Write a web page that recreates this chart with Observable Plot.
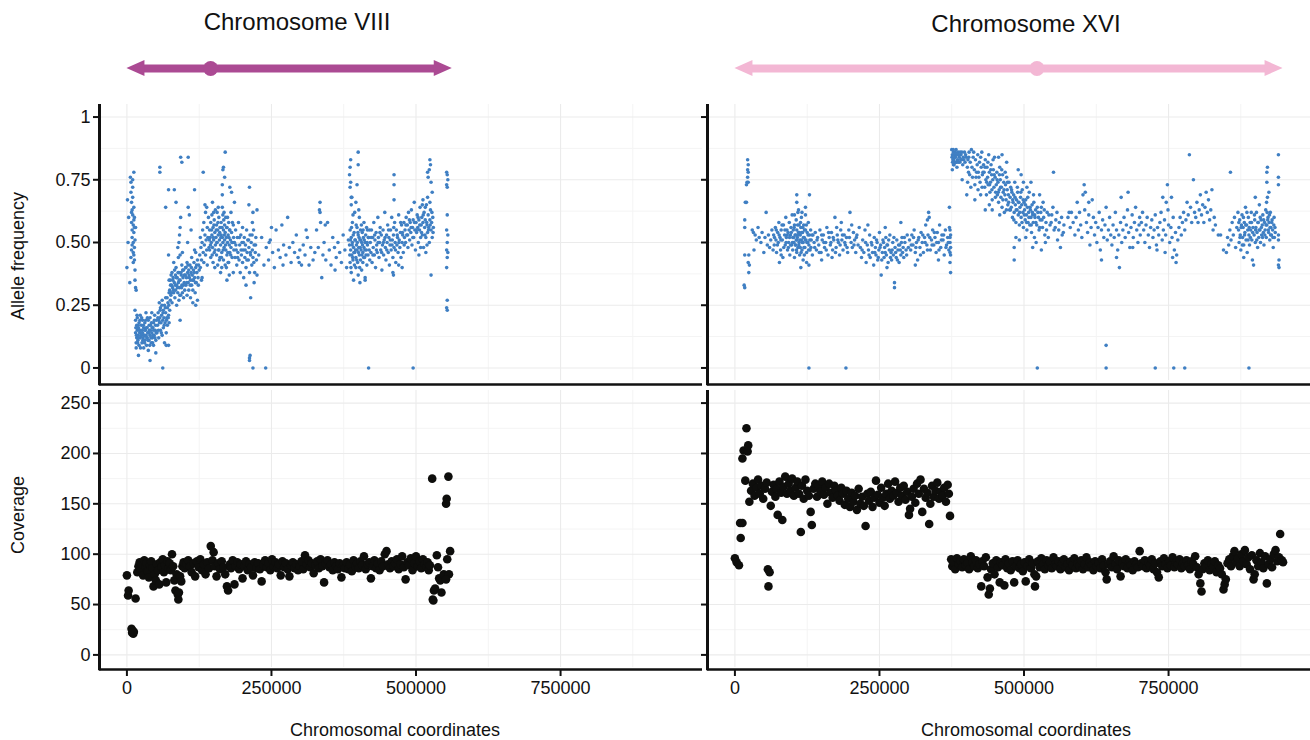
<!DOCTYPE html>
<html><head><meta charset="utf-8">
<script src="https://cdn.jsdelivr.net/npm/d3@7"></script>
<script src="https://cdn.jsdelivr.net/npm/@observablehq/plot@0.6"></script>
<style>
body{margin:0;background:#fff;}
#chart{position:relative;width:1310px;height:740px;overflow:hidden;font-family:"Liberation Sans",Arial,Helvetica,sans-serif;color:#111;}
#chart > svg{position:absolute;}
.lbl{position:absolute;white-space:nowrap;text-align:center;color:#111;}
</style></head><body><div id="chart"></div>
<script>
// ---------- data ----------
const chromNames = ["Chromosome VIII", "Chromosome XVI"];
const chromLengths = [562643, 948066];
const centromeres = [144800, 522400];
const arrowColors = ["#ab4a93", "#f3b7d4"];
const xTitle = "Chromosomal coordinates";
const yTitles = ["Allele frequency", "Coverage"];
const xTicks = [0, 250000, 500000, 750000];
const xTickLabels = ["0", "250000", "500000", "750000"];
const xMinor = [125000, 375000, 625000, 875000];
const afTicks = [0, 0.25, 0.5, 0.75, 1];
const afTickLabels = ["0", "0.25", "0.50", "0.75", "1"];
const afMinor = [0.125, 0.375, 0.625, 0.875];
const covTicks = [0, 50, 100, 150, 200, 250];
const covTickLabels = ["0", "50", "100", "150", "200", "250"];
const covMinor = [25, 75, 125, 175, 225];

// allele frequency, chromosome VIII: [position kb, frequency]
const af8 = [
[0,0.40],[1,0.67],[2,0.50],[3,0.60],
[6,0.76],[7,0.74],[7,0.70],[8,0.66],[8,0.62],[8,0.58],[9,0.55],[9,0.52],[9,0.49],[10,0.75],[10,0.72],[10,0.68],[10,0.61],[11,0.57],[11,0.50],[11,0.46],[11,0.42],[12,0.78],[12,0.64],[12,0.59],[12,0.54],[12,0.45],[13,0.60],[13,0.56],[13,0.48],[13,0.43],[14,0.39],[14,0.35],[5,0.34],[15,0.32],[16,0.31],[7,0.44],[8,0.47],[9,0.63],[14,0.51],[15,0.56],
[14,0.23],[15,0.19],[15,0.14],[16,0.10],[16,0.08],[17,0.17],[17,0.12],[18,0.15],[18,0.20],[19,0.13],[19,0.11],[20,0.16],[21,0.18],[21,0.09],[22,0.14],[23,0.12],[23,0.21],[24,0.15],[25,0.13],[25,0.17],[26,0.10],[27,0.14],[27,0.19],[28,0.12],[29,0.16],[29,0.08],[30,0.13],[31,0.18],[31,0.11],[32,0.15],[33,0.13],[33,0.22],[34,0.09],[35,0.16],[35,0.12],[36,0.14],[37,0.19],[37,0.07],[38,0.11],[39,0.15],[40,0.13],[40,0.20],[41,0.17],[42,0.10],[43,0.14],[43,0.22],[44,0.12],[45,0.16],[46,0.18],[46,0.09],[47,0.13],[48,0.21],[49,0.15],[50,0.11],[51,0.19],[52,0.14],
[15.5,0.16],[16.5,0.13],[17.5,0.21],[18.5,0.10],[19.5,0.17],[20.5,0.12],[21.5,0.15],[22.5,0.19],[23.5,0.08],[24.5,0.13],[25.5,0.20],[26.5,0.15],[27.5,0.11],[28.5,0.17],[29.5,0.13],[30.5,0.10],[31.5,0.15],[32.5,0.19],[33.5,0.16],[34.5,0.12],[35.5,0.20],[36.5,0.11],[37.5,0.14],[38.5,0.17],[39.5,0.09],[40.5,0.15],[41.5,0.12],[42.5,0.18],[43.5,0.16],[44.5,0.10],[45.5,0.13],[46.5,0.15],[47.5,0.19],[48.5,0.12],[49.5,0.17],[50.5,0.14],
[20,0.05],[40,0.03],[50,0.06],[62,0],
[53,0.17],[54,0.22],[55,0.19],[55,0.12],[56,0.26],[57,0.20],[58,0.15],[58,0.24],[59,0.18],[60,0.21],[61,0.27],[61,0.13],[62,0.19],[63,0.23],[63,0.16],[64,0.20],[65,0.25],[65,0.10],[66,0.18],[67,0.22],[67,0.28],[68,0.14],[69,0.20],[70,0.24],[70,0.17],[71,0.26],[72,0.21],[73,0.30],[73,0.18],[74,0.23],[75,0.27],[68,0.09],[72,0.09],
[53.5,0.20],[54.5,0.15],[56.5,0.18],[57.5,0.23],[59.5,0.14],[60.5,0.25],[62.5,0.22],[64.5,0.17],[66.5,0.24],[68.5,0.19],[69.5,0.28],[71.5,0.20],[72.5,0.25],[74.5,0.30],
[57,0.80],[57,0.78],[67,0.64],[72,0.45],[73,0.35],
[74,0.31],[75,0.35],[76,0.29],[77,0.33],[78,0.38],[78,0.26],[79,0.32],[80,0.36],[81,0.30],[81,0.42],[82,0.34],[83,0.28],[84,0.37],[84,0.31],[85,0.40],[86,0.33],[86,0.25],[87,0.36],[88,0.30],[89,0.44],[89,0.34],[90,0.27],[90,0.38],[91,0.32],[92,0.35],[92,0.45],[93,0.29],[94,0.37],[95,0.33],[95,0.41],[96,0.30],[97,0.36],[98,0.28],[98,0.39],[99,0.34],[100,0.31],[88,0.48],[91,0.53],[92,0.56],[93,0.60],[90,0.50],[96,0.46],
[75.5,0.33],[76.5,0.37],[77.5,0.30],[79.5,0.35],[80.5,0.31],[82.5,0.39],[83.5,0.33],[85.5,0.36],[87.5,0.32],[88.5,0.38],[90.5,0.35],[91.5,0.29],[93.5,0.38],[94.5,0.32],[96.5,0.39],[97.5,0.33],[99.5,0.37],
[72,0.71],[82,0.71],[85,0.66],[93,0.84],[95,0.82],[106,0.84],[92,0.19],
[101,0.37],[102,0.33],[102,0.40],[103,0.36],[104,0.29],[104,0.42],[105,0.38],[106,0.34],[107,0.39],[107,0.31],[108,0.36],[109,0.41],[110,0.35],[110,0.28],[111,0.38],[112,0.33],[112,0.44],[113,0.37],[114,0.31],[115,0.39],[115,0.35],[116,0.42],[117,0.36],[118,0.30],[119,0.40],[119,0.46],[120,0.34],[121,0.38],[122,0.43],[122,0.27],[123,0.36],[124,0.41],[125,0.39],[105,0.50],[108,0.61],[106,0.64],[117,0.47],[119,0.25],[114,0.26],[117,0.71],[111,0.55],
[101.5,0.40],[103.5,0.34],[105.5,0.41],[107.5,0.37],[109.5,0.33],[111.5,0.40],[113.5,0.35],[116.5,0.38],[118.5,0.34],[120.5,0.41],[123.5,0.33],
[126,0.45],[127,0.40],[127,0.52],[128,0.48],[129,0.43],[130,0.50],[130,0.36],[131,0.55],[132,0.46],[133,0.42],[133,0.58],[134,0.49],[135,0.53],[136,0.45],[136,0.62],[137,0.51],[138,0.47],[139,0.56],[139,0.41],[140,0.52],[141,0.60],[142,0.48],[132,0.78],[129,0.35],[135,0.65],[138,0.64],
[143,0.55],[143,0.47],[144,0.52],[145,0.58],[145,0.44],[146,0.50],[147,0.61],[147,0.53],[148,0.48],[149,0.56],[149,0.42],[150,0.51],[151,0.59],[151,0.46],[152,0.54],[153,0.49],[153,0.63],[154,0.52],[155,0.45],[155,0.57],[156,0.50],[157,0.55],[157,0.41],[158,0.53],[159,0.60],[159,0.47],[160,0.51],[161,0.56],[161,0.44],[162,0.49],[163,0.58],[163,0.53],[164,0.46],[165,0.52],[165,0.64],[166,0.50],[167,0.55],[167,0.43],[168,0.48],[169,0.57],[169,0.51],[170,0.54],[171,0.47],[171,0.60],[172,0.52],[173,0.45],[173,0.56],[174,0.50],[175,0.53],[175,0.42],[176,0.58],[177,0.49],[178,0.55],[178,0.46],[179,0.51],[180,0.62],[180,0.48],[181,0.54],[182,0.44],[183,0.50],[184,0.57],[185,0.47],[148,0.66],[152,0.40],[156,0.62],[160,0.43],[164,0.40],[168,0.62],[172,0.40],[176,0.42],
[142.5,0.51],[144.5,0.49],[146.5,0.55],[147.5,0.45],[149.5,0.52],[150.5,0.57],[152.5,0.47],[154.5,0.55],[155.5,0.50],[157.5,0.58],[158.5,0.47],[160.5,0.54],[162.5,0.52],[163.5,0.44],[164.5,0.56],[166.5,0.47],[167.5,0.59],[168.5,0.53],[170.5,0.49],[172.5,0.56],[174.5,0.46],[176.5,0.52],[177.5,0.55],[179.5,0.45],[181.5,0.50],[182.5,0.58],[184.5,0.52],[150,0.62],[158,0.64],[166,0.61],[174,0.60],[162,0.38],[170,0.41],
[165,0.73],[166,0.79],[167,0.80],[170,0.86],[169,0.76],[178,0.72],[165,0.69],[181,0.70],[173,0.35],[186,0.66],[184,0.38],[177,0.37],
[186,0.50],[187,0.44],[188,0.55],[189,0.47],[190,0.41],[191,0.52],[192,0.46],[193,0.58],[194,0.43],[195,0.49],[196,0.38],[197,0.53],[198,0.45],[199,0.50],[200,0.42],[200,0.56],[201,0.47],[202,0.36],[203,0.52],[204,0.44],[205,0.49],[206,0.40],[207,0.55],[208,0.46],[209,0.51],[210,0.43],[211,0.48],[212,0.38],[213,0.53],[214,0.45],[215,0.50],[216,0.41],[217,0.47],[218,0.44],[219,0.55],[220,0.49],[221,0.38],[222,0.46],[223,0.52],[224,0.43],
[188.5,0.49],[191.5,0.44],[194.5,0.52],[197.5,0.47],[201.5,0.50],[204.5,0.47],[207.5,0.43],[210.5,0.51],[213.5,0.46],[216.5,0.53],[219.5,0.42],[222.5,0.49],
[212,0.72],[211,0.65],[214,0.28],[206,0.33],[218,0.62],[217,0.58],[220,0.34],[225,0.63],[225,0.37],
[212,0.04],[212,0.03],[213,0.05],[218,0],[240,0],
[228,0.45],[233,0.52],[237,0.41],[241,0.48],[245,0.43],[248,0.51],[252,0.46],[255,0.40],[258,0.55],[262,0.47],[265,0.44],[268,0.57],[271,0.49],[275,0.45],[278,0.60],[281,0.48],[284,0.42],[287,0.50],[290,0.46],[293,0.53],[296,0.44],[299,0.47],[302,0.41],[305,0.49],[308,0.45],[312,0.52],[315,0.41],[318,0.48],[322,0.43],[325,0.46],[328,0.55],[331,0.48],[334,0.62],[335,0.58],[337,0.36],[339,0.45],[341,0.50],[344,0.43],[347,0.58],[350,0.47],[353,0.41],[356,0.52],[359,0.48],[362,0.44],[365,0.50],[368,0.46],[371,0.42],[374,0.53],[377,0.47],[380,0.40],[383,0.51],[250,0.56],[270,0.41],[310,0.55],[334,0.66],[333,0.63],[343,0.57],[360,0.39],[246,0.50],[298,0.42],
[385,0.49],[386,0.42],[386,0.55],[387,0.47],[388,0.38],[388,0.52],[389,0.45],[390,0.58],[390,0.50],[391,0.43],[392,0.48],[392,0.35],[393,0.54],[394,0.46],[394,0.62],[395,0.51],[396,0.44],[396,0.40],[397,0.49],[398,0.56],[398,0.47],[399,0.42],[400,0.53],[400,0.37],[401,0.48],[402,0.45],[402,0.60],[403,0.51],[404,0.43],[404,0.55],[405,0.47],[406,0.50],[406,0.39],[407,0.54],[408,0.46],[408,0.42],[409,0.52],[410,0.48],[410,0.58],[411,0.44],[412,0.50],[412,0.36],[413,0.53],[414,0.47],[415,0.41],[416,0.55],[416,0.49],[417,0.45],[418,0.52],[419,0.47],[420,0.43],[388,0.65],[391,0.61],[401,0.63],
[385.5,0.45],[386.5,0.51],[387.5,0.40],[388.5,0.56],[389.5,0.49],[390.5,0.44],[391.5,0.53],[392.5,0.46],[393.5,0.41],[394.5,0.51],[395.5,0.47],[396.5,0.57],[397.5,0.43],[398.5,0.50],[399.5,0.54],[400.5,0.46],[401.5,0.52],[402.5,0.40],[403.5,0.48],[404.5,0.51],[405.5,0.57],[406.5,0.45],[407.5,0.49],[408.5,0.55],[409.5,0.44],[410.5,0.51],[411.5,0.47],[413.5,0.45],[414.5,0.56],[415.5,0.50],[417.5,0.52],[419.5,0.55],
[385,0.77],[386,0.80],[387,0.83],[386,0.72],[387,0.74],[400,0.86],[400,0.81],[398,0.73],[388,0.68],[389,0.68],[396,0.66],[403,0.34],[412,0.35],[418,0],
[421,0.50],[422,0.46],[423,0.55],[424,0.42],[425,0.52],[426,0.48],[427,0.58],[428,0.45],[429,0.51],[430,0.40],[431,0.54],[432,0.49],[433,0.46],[434,0.60],[435,0.52],[436,0.44],[437,0.50],[438,0.56],[439,0.47],[440,0.53],[441,0.39],[442,0.49],[443,0.55],[444,0.45],[445,0.51],[446,0.62],[447,0.48],[448,0.43],[449,0.53],[450,0.50],[451,0.57],[452,0.46],[453,0.52],[454,0.41],[455,0.49],[456,0.55],[457,0.47],[458,0.60],[459,0.51],[460,0.44],[461,0.53],[462,0.48],[463,0.58],[464,0.50],[465,0.42],[466,0.55],[467,0.49],[468,0.52],[469,0.46],[470,0.61],[471,0.51],[472,0.48],[473,0.54],[474,0.44],[475,0.57],[476,0.50],[477,0.53],[478,0.46],[479,0.58],[480,0.52],
[422.5,0.52],[425.5,0.45],[428.5,0.53],[431.5,0.47],[434.5,0.50],[437.5,0.54],[440.5,0.46],[443.5,0.50],[446.5,0.52],[449.5,0.47],[452.5,0.55],[455.5,0.51],[458.5,0.49],[461.5,0.56],[464.5,0.47],[467.5,0.53],[470.5,0.50],[473.5,0.58],[476.5,0.54],[479.5,0.49],
[462,0.77],[462,0.73],[462,0.67],[461,0.37],[460,0.38],[470,0.41],[476,0.40],
[481,0.55],[482,0.50],[483,0.60],[484,0.53],[485,0.57],[486,0.48],[487,0.62],[488,0.55],[489,0.51],[490,0.58],[491,0.54],[492,0.63],[493,0.49],[494,0.56],[495,0.59],[496,0.52],[497,0.66],[498,0.55],[499,0.47],[500,0.58],[501,0.54],[502,0.61],[503,0.56],[504,0.50],[505,0.59],[506,0.55],[507,0.64],[508,0.52],[509,0.57],[510,0.60],[511,0.53],[512,0.58],[513,0.48],[514,0.62],[515,0.56],[516,0.59],[517,0.52],[518,0.65],[519,0.57],[520,0.54],[521,0.61],[522,0.56],[523,0.50],[524,0.59],[525,0.63],[526,0.55],[527,0.58],[528,0.52],[529,0.60],[530,0.56],[512,0.67],[520,0.68],[505,0.45],[517,0.46],
[482.5,0.57],[485.5,0.53],[488.5,0.59],[491.5,0.56],[494.5,0.52],[497.5,0.58],[500.5,0.55],[503.5,0.60],[506.5,0.57],[509.5,0.54],[512.5,0.61],[515.5,0.53],[518.5,0.58],[521.5,0.55],[524.5,0.57],[527.5,0.62],[529.5,0.54],[511,0.65],[516,0.64],[524,0.66],[519,0.49],[508,0.48],
[520,0.78],[521,0.76],[523,0.79],[524,0.83],[525,0.81],[526,0.74],[526,0.37],[495,0],[528,0.70],
[553,0.78],[554,0.77],[555,0.75],[553,0.73],[554,0.72],[554,0.61],[553,0.55],[555,0.53],[554,0.50],[553,0.47],[555,0.46],[554,0.44],[553,0.40],[554,0.27],[553,0.24],[554,0.23]
];

// allele frequency, chromosome XVI: [position kb, frequency]
const af16 = [
[22,0.83],[23,0.81],[22,0.79],[23,0.78],[22,0.76],[23,0.74],[21,0.74],[20,0.73],[18,0.66],[20,0.66],[17,0.59],[17,0.56],[17,0.45],[24,0.45],[25,0.41],[23,0.42],[24,0.38],[16,0.33],[17,0.32],
[30,0.55],[32,0.54],[33,0.47],[35,0.53],[37,0.51],[40,0.56],[42,0.52],[45,0.50],[47,0.54],[50,0.46],[52,0.52],[54,0.62],[56,0.49],[58,0.53],[60,0.48],[62,0.51],[64,0.55],[66,0.47],
[67,0.53],[68,0.49],[70,0.56],[71,0.51],[72,0.46],[74,0.54],[75,0.50],[76,0.58],[78,0.52],[79,0.47],[80,0.55],[82,0.51],[83,0.44],[84,0.57],[86,0.53],[87,0.49],[88,0.60],[89,0.52],[90,0.55],[91,0.47],[92,0.54],[93,0.50],[94,0.58],[95,0.45],[96,0.53],[97,0.56],[98,0.49],[99,0.61],[100,0.52],[100,0.47],[101,0.55],[102,0.50],[103,0.57],[103,0.44],[104,0.53],[105,0.49],[106,0.59],[106,0.51],[107,0.55],[107,0.46],[108,0.52],[109,0.62],[109,0.48],[110,0.54],[111,0.50],[111,0.57],[112,0.45],[113,0.53],[113,0.48],[114,0.56],[115,0.51],[115,0.60],[116,0.47],[117,0.54],[118,0.50],[118,0.43],[119,0.57],[120,0.52],[121,0.48],[122,0.55],[122,0.61],[123,0.51],[124,0.46],[125,0.54],[126,0.50],[127,0.58],[128,0.49],[129,0.53],[130,0.47],[131,0.55],[132,0.51],[134,0.45],[135,0.53],
[68.5,0.52],[71.5,0.55],[73.5,0.49],[76.5,0.53],[79.5,0.51],[81.5,0.57],[84.5,0.48],[86.5,0.55],[88.5,0.50],[90.5,0.53],[92.5,0.48],[94.5,0.52],[96.5,0.49],[97.5,0.54],[99.5,0.50],[101.5,0.52],[102.5,0.56],[104.5,0.49],[105.5,0.53],[106.5,0.47],[107.5,0.51],[108.5,0.57],[109.5,0.53],[110.5,0.49],[111.5,0.54],[112.5,0.51],[113.5,0.58],[114.5,0.46],[115.5,0.54],[116.5,0.50],[117.5,0.56],[118.5,0.52],[119.5,0.48],[120.5,0.55],[121.5,0.51],[123.5,0.57],[124.5,0.50],[126.5,0.53],[127.5,0.47],[129.5,0.51],[131.5,0.48],[133.5,0.53],[110,0.63],[116,0.62],[103,0.61],[120,0.45],
[107,0.69],[107,0.66],[122,0.64],[129,0.69],[114,0.40],[128,0.41],[124,0.42],[128,0],[80,0.45],[77,0.42],
[137,0.50],[139,0.54],[141,0.47],[143,0.52],[145,0.49],[147,0.55],[149,0.46],[151,0.51],[153,0.53],[155,0.48],[157,0.50],[159,0.56],[161,0.45],[163,0.52],[165,0.49],[167,0.54],[169,0.47],[171,0.51],[173,0.60],[175,0.48],[177,0.53],[179,0.50],[181,0.45],[183,0.55],[185,0.51],[187,0.47],[189,0.53],[191,0.49],[193,0.52],[195,0.46],[197,0.55],[199,0.62],[201,0.50],[203,0.48],[205,0.54],[207,0.51],[209,0.46],[211,0.53],[213,0.49],[215,0.56],[192,0],[150,0.43],[168,0.44],[184,0.58],[202,0.57],[176,0.56],
[138,0.48],[142,0.51],[146,0.46],[150,0.53],[154,0.50],[158,0.47],[162,0.54],[166,0.50],[170,0.52],[174,0.46],[178,0.51],[182,0.49],[186,0.53],[190,0.50],[194,0.48],[198,0.52],[206,0.49],[210,0.52],
[217,0.48],[219,0.44],[221,0.51],[223,0.46],[225,0.55],[227,0.42],[229,0.49],[231,0.47],[233,0.53],[234,0.44],[236,0.50],[238,0.46],[240,0.41],[241,0.52],[243,0.48],[244,0.45],[246,0.50],[247,0.43],[249,0.47],[250,0.54],[252,0.49],[253,0.37],[255,0.46],[256,0.51],[258,0.44],[259,0.48],[261,0.52],[262,0.45],[264,0.49],[265,0.42],[267,0.47],[268,0.53],[270,0.46],[271,0.43],[273,0.50],[274,0.45],[276,0.32],[277,0.48],[279,0.44],[280,0.51],[282,0.47],[284,0.42],[285,0.49],[287,0.45],[289,0.52],[290,0.46],[292,0.44],[294,0.50],[296,0.47],[298,0.53],[300,0.48],[230,0.57],[260,0.56],[276,0.34],[287,0.58],[263,0.40],
[220,0.47],[226,0.50],[232,0.45],[237,0.49],[242,0.46],[245,0.51],[248,0.44],[251,0.48],[254,0.43],[257,0.50],[260,0.46],[263,0.49],[266,0.51],[269,0.44],[272,0.47],[275,0.52],[278,0.46],[281,0.43],[283,0.49],[286,0.47],[288,0.50],[291,0.48],[293,0.52],[297,0.45],
[302,0.51],[304,0.47],[306,0.53],[308,0.49],[310,0.55],[312,0.46],[314,0.50],[316,0.43],[318,0.52],[320,0.48],[322,0.54],[324,0.50],[326,0.46],[328,0.52],[330,0.57],[332,0.49],[334,0.53],[336,0.60],[338,0.47],[340,0.51],[342,0.55],[344,0.49],[346,0.52],[348,0.46],[350,0.54],[352,0.50],[354,0.57],[356,0.48],[358,0.53],[360,0.51],[362,0.45],[364,0.55],[366,0.49],[368,0.52],[370,0.47],[372,0.55],[372,0.50],[373,0.45],[372,0.42],[373,0.38],[372,0.52],[373,0.48],[371,0.64],[335,0.62],[333,0.59],[312,0.41],[352,0.43],
[305,0.49],[309,0.52],[313,0.48],[317,0.51],[321,0.45],[325,0.53],[329,0.50],[333,0.47],[337,0.52],[341,0.49],[345,0.54],[349,0.50],[353,0.47],[357,0.51],[361,0.53],[365,0.48],[369,0.50],[371,0.56],[373,0.53],[372,0.46],
[375,0.87],[376,0.85],[377,0.83],[378,0.86],[379,0.81],[380,0.84],[381,0.86],[382,0.82],[383,0.85],[384,0.80],[385,0.83],[386,0.86],[388,0.84],[389,0.82],[391,0.85],[392,0.83],[394,0.81],[395,0.84],[393,0.75],[401,0.69],[398,0.82],[400,0.84],[403,0.83],[405,0.86],[407,0.82],[409,0.87],[410,0.80],[412,0.84],[414,0.79],[416,0.83],[417,0.76],[419,0.81],[420,0.85],[421,0.78],[423,0.82],[424,0.74],[426,0.80],[427,0.86],[428,0.77],[430,0.81],[376,0.79],[378,0.81],
[375.5,0.84],[376.5,0.82],[377.5,0.87],[378.5,0.83],[379.5,0.85],[380.5,0.82],[381.5,0.84],[382.5,0.87],[383.5,0.82],[384.5,0.85],[386.5,0.82],[387.5,0.85],[389.5,0.86],[390.5,0.83],[392.5,0.86],[396,0.83],[397,0.86],[399,0.85],[402,0.80],[404,0.78],
[402.5,0.74],[404.5,0.84],[406,0.77],[408,0.72],[411,0.76],[413,0.86],[415,0.73],[418,0.78],[420.5,0.71],[422,0.76],[425,0.84],[427.5,0.72],[429,0.78],[432.5,0.80],[435.5,0.74],[437.5,0.82],[440.5,0.73],[442.5,0.79],[444.5,0.71],[446.5,0.83],[448.5,0.77],[450.5,0.68],[453.5,0.75],[455.5,0.70],[457.5,0.77],[459.5,0.72],[461.5,0.79],[463.5,0.67],[465.5,0.71],[467.5,0.78],[469.5,0.63],[471.5,0.74],[473.5,0.66],[415,0.67],[425,0.69],[445,0.63],[458,0.61],
[431,0.78],[432,0.72],[433,0.83],[434,0.75],[435,0.69],[436,0.80],[437,0.76],[438,0.73],[439,0.85],[440,0.78],[441,0.70],[442,0.74],[443,0.81],[444,0.77],[445,0.67],[446,0.75],[447,0.79],[448,0.72],[449,0.84],[450,0.76],[451,0.70],[433,0.63],[440,0.65],
[452,0.73],[453,0.78],[454,0.69],[455,0.74],[456,0.66],[457,0.71],[458,0.80],[459,0.75],[460,0.68],[461,0.72],[462,0.64],[463,0.77],[464,0.70],[465,0.74],[466,0.62],[467,0.69],[468,0.73],[469,0.67],[470,0.76],[471,0.71],[472,0.65],[473,0.69],[474,0.74],[475,0.63],[456,0.84],[462,0.85],[470,0.82],
[476,0.68],[477,0.72],[478,0.64],[479,0.70],[480,0.60],[481,0.66],[482,0.69],[483,0.62],[484,0.74],[485,0.65],[486,0.58],[487,0.67],[488,0.63],[489,0.70],[490,0.61],[491,0.66],[492,0.57],[493,0.64],[494,0.68],[495,0.60],[496,0.65],[497,0.71],[498,0.62],[499,0.56],[500,0.66],[483,0.48],[483,0.43],[490,0.79],[495,0.77],[499,0.74],
[476.5,0.63],[478.5,0.71],[480.5,0.67],[482.5,0.59],[484.5,0.68],[486.5,0.63],[488.5,0.72],[490.5,0.66],[492.5,0.62],[494.5,0.70],[496.5,0.58],[498.5,0.67],[500.5,0.61],[502.5,0.65],[504.5,0.58],[506.5,0.68],[508.5,0.60],[510.5,0.64],[512.5,0.57],[514.5,0.62],[516.5,0.69],[518.5,0.61],[520.5,0.58],[523,0.64],[525,0.60],[527,0.56],[529,0.62],[531,0.59],[535,0.63],[539,0.55],[543,0.61],[547,0.58],[550,0.64],[554,0.56],[557,0.62],[561,0.58],[565,0.60],[568,0.54],[486,0.52],[492,0.51],[503,0.52],[515,0.48],[530,0.47],[542,0.52],
[501,0.63],[502,0.59],[503,0.67],[504,0.61],[505,0.55],[506,0.64],[507,0.58],[508,0.62],[509,0.70],[510,0.57],[511,0.63],[512,0.60],[513,0.54],[514,0.65],[515,0.61],[516,0.58],[517,0.66],[518,0.52],[519,0.60],[520,0.63],[522,0.57],[524,0.62],[526,0.55],[528,0.59],[530,0.64],[532,0.56],[534,0.60],[536,0.53],[538,0.58],[540,0.62],[505,0.72],[512,0.74],[521,0.50],[527,0.69],[533,0.66],[537,0.50],[551,0.78],[545,0.57],[548,0.61],[552,0.55],[555,0.59],[558,0.51],[560,0.55],[563,0.48],[566,0.53],[569,0.57],
[576,0.60],[578,0.62],[580,0.56],[582,0.62],[585,0.58],[588,0.53],[590,0.60],[592,0.66],[594,0.55],[596,0.62],[598,0.57],[600,0.52],[602,0.69],[604,0.73],[605,0.63],[606,0.70],[608,0.58],[610,0.54],[612,0.61],[614,0.49],[616,0.56],[618,0.67],[620,0.60],[622,0.53],[624,0.58],[626,0.50],[628,0.56],[630,0.62],[632,0.47],[634,0.55],[636,0.59],[638,0.52],[640,0.57],[642,0.64],[644,0.51],[646,0.55],[648,0.60],[650,0.53],[652,0.49],[654,0.57],[656,0.52],[658,0.62],[660,0.55],[662,0.47],[664,0.53],[665,0.40],[667,0.58],[669,0.50],[671,0.55],[673,0.60],[675,0.52],[677,0.57],[679,0.63],[681,0.54],[683,0.48],[685,0.56],[687,0.61],[689,0.52],[691,0.58],[693,0.64],[695,0.55],[697,0.50],[699,0.57],[612,0.66],[660,0.44],[634,0.43],[668,0.68],[680,0.70],[688,0.48],[700,0.60],
[701,0.53],[703,0.58],[705,0.62],[707,0.55],[709,0.50],[711,0.57],[713,0.60],[715,0.53],[717,0.48],[719,0.56],[721,0.59],[723,0.52],[725,0.55],[727,0.61],[729,0.49],[731,0.56],[733,0.53],[735,0.58],[737,0.62],[739,0.51],[741,0.55],[743,0.59],[745,0.53],[746,0.66],[748,0.73],[749,0.63],[750,0.57],[752,0.50],[754,0.56],[756,0.52],[758,0.60],[760,0.47],[762,0.54],[764,0.45],[766,0.51],[768,0.56],[770,0.60],[772,0.53],[774,0.58],[776,0.62],[778,0.55],[780,0.59],[782,0.66],[784,0.61],[786,0.85],[788,0.64],[790,0.58],[793,0.75],[795,0.62],[730,0.47],[757,0.44],[744,0.46],[763,0.42],[740,0.68],[755,0.68],
[797,0.60],[799,0.66],[801,0.58],[803,0.63],[805,0.69],[807,0.61],[809,0.65],[811,0.58],[813,0.64],[815,0.70],[817,0.62],[819,0.67],[821,0.59],[823,0.63],[825,0.71],[827,0.55],[829,0.60],[831,0.57],[836,0.53],[840,0.53],[845,0.47],[850,0.46],[852,0.52],[854,0.49],[856,0.55],[857,0.78],[858,0.51],[860,0.58],[862,0.53],[864,0.60],[866,0.48],[868,0.56],[870,0.62],
[871,0.55],[872,0.50],[873,0.59],[874,0.53],[875,0.47],[876,0.57],[877,0.61],[878,0.52],[879,0.56],[880,0.49],[881,0.58],[882,0.54],[883,0.64],[884,0.51],[885,0.57],[886,0.46],[887,0.55],[888,0.60],[889,0.53],[890,0.49],[891,0.58],[892,0.55],[893,0.62],[894,0.51],[895,0.43],[896,0.56],[897,0.41],[898,0.53],[899,0.59],[900,0.50],[901,0.56],[902,0.62],[903,0.54],[904,0.48],[905,0.58],[906,0.52],[907,0.65],[908,0.55],[909,0.50],[910,0.59],[911,0.53],[912,0.57],[913,0.61],[914,0.54],[915,0.49],[916,0.58],[917,0.55],[918,0.63],[919,0.52],[920,0.57],[920,0.74],[920,0.78],[921,0.80],[921,0.68],[922,0.60],[923,0.54],[924,0.58],[925,0.51],[926,0.62],[927,0.56],[928,0.53],[929,0.59],[930,0.55],[931,0.48],[932,0.57],[933,0.52],[934,0.56],[900,0.68],[880,0.44],
[871.5,0.58],[873.5,0.52],[875.5,0.56],[877.5,0.49],[879.5,0.60],[881.5,0.53],[883.5,0.57],[885.5,0.62],[887.5,0.51],[889.5,0.56],[891.5,0.52],[893.5,0.58],[895.5,0.54],[898.5,0.61],[900.5,0.55],[902.5,0.51],[904.5,0.58],[906.5,0.55],[908.5,0.60],[910.5,0.56],[912.5,0.52],[914.5,0.59],[916.5,0.53],[918.5,0.57],[919.5,0.66],[920.5,0.62],[921.5,0.59],[922.5,0.55],[923.5,0.70],[924.5,0.61],[925.5,0.56],[926.5,0.53],[928.5,0.58],[930.5,0.52],[932.5,0.60],[934.5,0.54],
[940,0.85],[940,0.76],[940,0.73],[940,0.53],[940,0.51],[941,0.43],[940,0.41],[941,0.40],
[523,0],[642,0],[642,0.09],[727,0],[759,0],[778,0],[889,0]
];

// coverage, chromosome VIII: [position kb, coverage]
const cov8 = [
[0,79],[2,59],[3,64],[8,26],[9,22],[10,24],[11,21],[12,23],[15,56],
[18,82],[20,88],[22,92],[24,85],[26,90],[28,79],[30,94],[32,87],[34,91],[36,83],[38,77],[40,89],[42,93],[44,86],[46,68],[48,80],[50,74],[52,90],[54,84],[56,70],[58,92],[60,87],[62,95],[64,82],[66,89],[68,72],[70,93],[72,86],[74,91],[76,84],[78,100],[80,88],[82,74],[84,64],[86,80],[88,60],[89,55],[90,62],[92,78],[94,73],[96,88],[98,92],[100,86],[103,90],[106,94],[109,88],[112,82],[115,91],[118,78],[121,93],[124,87],[127,95],[130,84],[133,90],[136,80],[139,92],[142,86],[145,108],[148,94],[150,102],[152,88],[155,78],[158,91],[161,85],[164,93],[167,87],[170,80],[173,68],[175,64],[178,90],[180,86],[183,94],[186,70],[188,88],[191,92],[194,85],[197,90],[200,76],[203,88],[206,93],[209,84],[212,90],[215,87],[218,79],[221,92],[224,86],[227,91],[230,85],[233,73],[236,89],[239,94],[242,87],[245,91],[248,84],[251,95],[254,88],[257,92],[260,86],[263,90],[266,79],[269,93],[272,87],[275,91],[278,85],[281,78],[284,89],[287,92],[290,86],[293,90],[296,84],[299,88],[302,93],[305,85],[308,99],[311,90],[314,94],[317,87],[320,91],[323,81],[326,89],[329,93],[332,86],[335,95],[338,88],[341,72],[344,91],[347,94],[350,87],[353,90],[356,84],[359,92],[362,88],[365,85],[368,91],[371,77],[374,89],[377,86],[380,92],[383,85],[386,90],[389,83],[392,94],[395,88],[398,91],[401,86],[404,93],[407,89],[410,98],[413,85],[416,90],[419,92],[422,76],[425,88],[428,94],[431,86],[434,91],[437,84],[440,93],[443,88],[446,100],[449,103],[452,90],[455,86],[458,93],[461,88],[464,91],[467,95],[470,85],[473,90],[476,98],[479,87],[482,75],[485,92],[488,89],[491,96],[494,84],[497,91],[500,98],[503,88],[506,93],[509,86],[512,95],[515,90],[518,87],[520,92],[522,84],[524,89],
[528,175],[529,55],[530,54],[531,64],[533,66],[536,99],[538,87],[540,76],[542,74],[544,62],[548,80],[552,150],[553,155],[554,95],[556,177],[557,80],[559,103],[552,75]
];

// coverage, chromosome XVI: [position kb, coverage]
const cov16 = [
[0,96],[3,92],[7,89],[9,131],[10,116],[13,131],[13,195],[15,203],[18,173],[20,225],[22,202],[23,208],[25,152],
[28,163],[31,170],[34,158],[37,166],[40,174],[43,160],[46,168],[49,155],[52,165],[55,171],[57,85],[58,68],[60,82],[62,148],[64,162],[67,169],[70,157],[72,165],[74,139],[77,172],[80,161],[82,134],[84,167],[87,177],[90,160],[93,170],[96,163],[99,175],[102,158],[105,166],[108,172],[111,160],[114,122],[116,168],[119,155],[122,174],[125,163],[128,158],[131,142],[133,129],[136,165],[139,170],[142,157],[145,168],[148,162],[151,172],[154,159],[157,166],[160,150],[163,170],[166,161],[169,156],[172,168],[175,163],[178,158],[181,153],[184,166],[187,160],[190,149],[193,163],[196,155],[199,147],[202,161],[205,152],[208,158],[211,144],[214,165],[217,150],[220,157],[223,148],[226,128],[229,160],[232,153],[235,162],[238,147],[241,156],[244,173],[247,159],[250,151],[253,166],[256,156],[259,148],[262,160],[265,170],[268,155],[271,163],[274,158],[277,172],[280,161],[283,152],[286,166],[289,158],[292,168],[295,154],[298,162],[301,139],[303,145],[306,157],[309,165],[312,151],[315,170],[318,160],[321,174],[324,142],[327,165],[330,156],[333,161],[336,130],[338,150],[341,168],[344,157],[347,163],[350,171],[353,155],[356,162],[359,158],[362,166],[365,152],[368,169],[370,160],[372,138],[374,95],[376,88],[378,92],
[381,85],[384,96],[387,90],[390,93],[393,87],[396,95],[399,89],[402,91],[405,85],[408,98],[411,92],[414,88],[417,94],[420,86],[423,90],[426,68],[428,93],[431,88],[434,97],[437,77],[439,60],[441,66],[443,85],[446,91],[449,80],[452,94],[455,87],[458,72],[460,92],[463,89],[466,69],[468,95],[471,86],[474,91],[477,84],[480,93],[483,72],[486,88],[489,94],[492,86],[495,90],[498,83],[501,92],[503,73],[506,88],[509,95],[512,86],[515,91],[518,80],[519,68],[521,78],[524,93],[527,87],[530,96],[533,90],[536,85],[539,94],[542,89],[545,92],[548,86],[551,97],[554,90],[557,88],[560,93],[563,85],[566,91],[569,95],[572,87],[575,90],[578,84],[581,93],[584,89],[587,96],[590,86],[593,91],[596,88],[599,94],[602,85],[605,90],[608,97],[611,87],[614,92],[617,89],[620,84],[623,93],[626,88],[629,91],[632,86],[635,95],[638,89],[641,82],[643,75],[646,90],[649,93],[652,87],[655,98],[658,90],[661,85],[664,94],[667,78],[670,91],[673,88],[676,95],[679,86],[682,92],[685,89],[688,84],[691,93],[694,90],[697,87],[700,103],[703,91],[706,88],[709,94],[712,86],[715,92],[718,89],[721,95],[724,85],[727,91],[730,82],[733,77],[736,93],[739,88],[742,96],[745,90],[748,86],[751,93],[754,89],[757,97],[760,87],[763,92],[766,90],[769,95],[772,86],[775,91],[778,88],[781,94],[784,89],[787,85],[790,93],[793,90],[796,98],[799,87],[802,80],[805,71],[807,63],[809,85],[812,91],[815,88],[818,94],[821,84],[824,90],[827,87],[830,93],[833,82],[836,89],[839,86],[842,80],[845,65],[847,70],[849,75],[852,91],[855,95],[858,88],[861,98],[864,103],[867,92],[870,96],[873,88],[876,100],[879,93],[882,104],[885,90],[888,97],[891,85],[894,99],[897,75],[899,80],[902,94],[905,88],[908,101],[911,92],[914,86],[917,98],[920,71],[923,90],[926,95],[929,87],[932,100],[935,104],[938,93],[941,97],[943,120],[946,94],[948,92]
];

// ---------- layout / style ----------
const maxLen = d3.max(chromLengths);
const xDomain = [-0.05 * maxLen, 1.05 * maxLen];
const afDomain = [-0.05, 1.05];
const covDomain = [-12.5, 262.5];
const FONT = '"Liberation Sans", Arial, Helvetica, sans-serif';
const INK = "#111";
const chart = document.getElementById("chart");

const cols = [
  {left: 0, width: 705, mL: 99, mR: 3, labels: true},
  {left: 690, width: 620, mL: 17, mR: 0, labels: false}
];

function place(svg, left, top) {
  svg.style.left = left + "px";
  svg.style.top = top + "px";
  chart.appendChild(svg);
}

function panel(col, rowIdx, pts) {
  const top = rowIdx === 0 ? 94 : 380;
  const height = rowIdx === 0 ? 300 : 360;
  const mT = 10;
  const mB = rowIdx === 0 ? 14 : 73;
  const yDomain = rowIdx === 0 ? afDomain : covDomain;
  const yTicks = rowIdx === 0 ? afTicks : covTicks;
  const yLabels = rowIdx === 0 ? afTickLabels : covTickLabels;
  const yMinor = rowIdx === 0 ? afMinor : covMinor;
  const lineDy = rowIdx === 0 ? 4 : 2;
  const marks = [
    Plot.gridX(xMinor, {stroke: "#f4f4f4", strokeOpacity: 1, strokeWidth: 1}),
    Plot.gridY(yMinor, {stroke: "#f4f4f4", strokeOpacity: 1, strokeWidth: 1}),
    Plot.gridX(xTicks, {stroke: "#ebebeb", strokeOpacity: 1, strokeWidth: 1.1}),
    Plot.gridY(yTicks, {stroke: "#ebebeb", strokeOpacity: 1, strokeWidth: 1.1}),
    Plot.dot(pts, {
      x: d => d[0] * 1000, y: d => d[1],
      r: rowIdx === 0 ? 1.8 : 4.3,
      fill: rowIdx === 0 ? "#3f7fc3" : "#0e0e0c",
      stroke: "none"
    }),
    Plot.ruleY([yDomain[0]], {stroke: INK, strokeWidth: 2.5, dy: lineDy}),
    Plot.ruleX([xDomain[0]], {stroke: INK, strokeWidth: 3, insetBottom: -(lineDy + 1.2)}),
    Plot.axisY({
      ticks: yTicks,
      tickFormat: d => col.labels ? yLabels[yTicks.indexOf(d)] : "",
      tickSize: 6, tickPadding: 3, strokeWidth: 2, stroke: INK,
      label: null, fontSize: 18, fill: INK
    })
  ];
  if (rowIdx === 1) {
    marks.push(Plot.axisX({
      ticks: xTicks,
      tickFormat: d => xTickLabels[xTicks.indexOf(d)],
      tickSize: 6, tickPadding: 5, strokeWidth: 2, stroke: INK, dy: 3,
      label: null, fontSize: 18, fill: INK
    }));
  }
  const svg = Plot.plot({
    width: col.width, height,
    marginLeft: col.mL, marginRight: col.mR, marginTop: mT, marginBottom: mB,
    style: {fontFamily: FONT, fontSize: "18px", color: INK, background: "transparent", overflow: "visible"},
    x: {domain: xDomain, ...(rowIdx === 0 ? {axis: null} : {})},
    y: {domain: yDomain},
    marks
  });
  place(svg, col.left, top);
}

function header(col, i) {
  const len = chromLengths[i], cen = centromeres[i], color = arrowColors[i];
  const bpPerPx = (xDomain[1] - xDomain[0]) / (col.width - col.mL - col.mR);
  const head = 18 * bpPerPx;
  const half = 0.4;
  const headL = [{x: 0, lo: 0, hi: 0}, {x: head, lo: -half, hi: half}];
  const headR = [{x: len, lo: 0, hi: 0}, {x: len - head, lo: -half, hi: half}];
  const svg = Plot.plot({
    width: col.width, height: 40,
    marginLeft: col.mL, marginRight: col.mR, marginTop: 0, marginBottom: 0,
    style: {background: "transparent", overflow: "visible"},
    x: {domain: xDomain, axis: null},
    y: {domain: [-1, 1], axis: null},
    marks: [
      Plot.ruleY([0], {x1: head * 0.9, x2: len - head * 0.9, stroke: color, strokeWidth: 8}),
      Plot.areaY(headL, {x: "x", y1: "lo", y2: "hi", fill: color}),
      Plot.areaY(headR, {x: "x", y1: "lo", y2: "hi", fill: color}),
      Plot.dot([cen], {x: d => d, y: () => 0, r: 7.5, fill: color, stroke: "none"})
    ]
  });
  place(svg, col.left, 48);
}

function label(text, cx, cy, size, rotate) {
  const d = document.createElement("div");
  d.className = "lbl";
  d.textContent = text;
  d.style.fontSize = size + "px";
  d.style.lineHeight = size + "px";
  d.style.width = "400px";
  d.style.left = (cx - 200) + "px";
  d.style.top = (cy - size / 2) + "px";
  if (rotate) d.style.transform = "rotate(-90deg)";
  chart.appendChild(d);
}

header(cols[0], 0);
header(cols[1], 1);
panel(cols[0], 0, af8);
panel(cols[1], 0, af16);
panel(cols[0], 1, cov8);
panel(cols[1], 1, cov16);

label(chromNames[0], 297, 22, 24);
label(chromNames[1], 1026, 24, 24);
label(yTitles[0], 18, 256, 18, true);
label(yTitles[1], 18, 515, 18, true);
label(xTitle, 395, 730, 18);
label(xTitle, 1026, 730, 18);
</script></body></html>
